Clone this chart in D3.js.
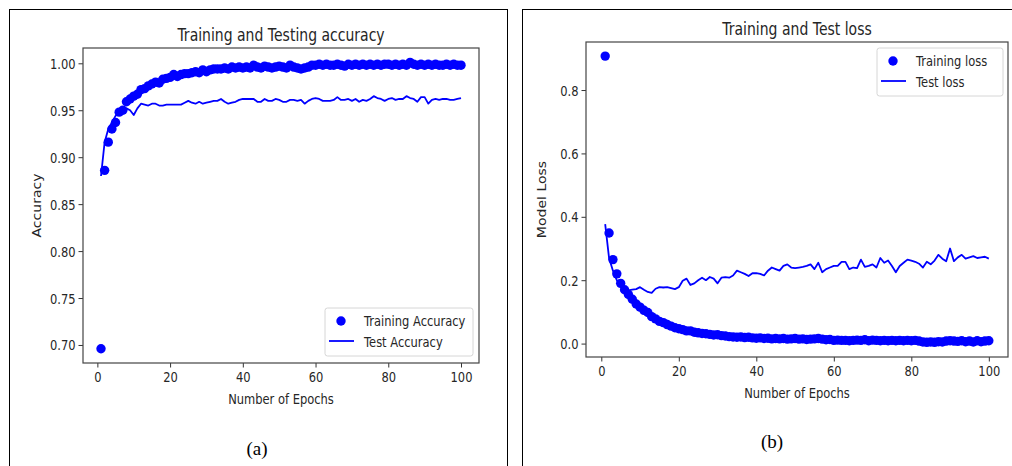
<!DOCTYPE html>
<html lang="en">
<head>
<meta charset="utf-8">
<title>Training curves</title>
<script src="https://cdn.jsdelivr.net/npm/d3@7"></script>
<style>
  body { margin: 0; background: #fff; }
  svg { display: block; }
  text { font-family: "DejaVu Sans", sans-serif; fill: #262626; }
  .caption { font-family: "Liberation Serif", "Times New Roman", serif; fill: #000; }
</style>
</head>
<body>
<script>
// epochs 1..100
var epochs = d3.range(1, 101);

// panel (a) - accuracy
var trainAcc = [
  0.696, 0.886, 0.916, 0.930, 0.937, 0.948, 0.950, 0.959, 0.962, 0.965,
  0.967, 0.972, 0.973, 0.976, 0.978, 0.980, 0.979, 0.983, 0.984, 0.985,
  0.988, 0.986, 0.988, 0.989, 0.989, 0.990, 0.991, 0.990, 0.993, 0.991,
  0.993, 0.994, 0.994, 0.994, 0.995, 0.994, 0.996, 0.995, 0.996, 0.995,
  0.996, 0.995, 0.998, 0.996, 0.995, 0.997, 0.996, 0.995, 0.996, 0.997,
  0.996, 0.995, 0.998, 0.996, 0.995, 0.994, 0.995, 0.996, 0.998, 0.998,
  0.999, 0.998, 0.999, 0.998, 0.998, 0.999, 0.998, 0.997, 0.999, 0.998,
  0.999, 0.998, 0.999, 0.998, 0.999, 0.998, 0.999, 0.998, 0.999, 0.999,
  0.998, 0.999, 0.998, 0.999, 0.998, 1.001, 0.999, 0.998, 0.999, 0.998,
  0.999, 0.998, 0.999, 0.998, 0.998, 0.999, 0.998, 0.999, 0.998, 0.998
];
var testAcc = [
  0.880, 0.916, 0.930, 0.937, 0.944, 0.949, 0.951, 0.952, 0.950, 0.945,
  0.952, 0.957, 0.956, 0.955, 0.957, 0.957, 0.955, 0.955, 0.956, 0.956,
  0.956, 0.956, 0.956, 0.958, 0.960, 0.958, 0.957, 0.959, 0.957, 0.958,
  0.959, 0.960, 0.960, 0.962, 0.959, 0.957, 0.958, 0.959, 0.961, 0.962,
  0.962, 0.962, 0.962, 0.959, 0.959, 0.962, 0.960, 0.960, 0.962, 0.961,
  0.959, 0.959, 0.961, 0.961, 0.960, 0.961, 0.957, 0.960, 0.962, 0.963,
  0.962, 0.960, 0.960, 0.960, 0.961, 0.964, 0.961, 0.961, 0.962, 0.960,
  0.962, 0.959, 0.961, 0.960, 0.962, 0.965, 0.963, 0.962, 0.960, 0.962,
  0.963, 0.961, 0.962, 0.962, 0.965, 0.963, 0.962, 0.959, 0.964, 0.964,
  0.957, 0.961, 0.962, 0.961, 0.962, 0.962, 0.961, 0.961, 0.962, 0.963
];

// panel (b) - loss
var trainLoss = [
  0.907, 0.349, 0.265, 0.220, 0.190, 0.170, 0.155, 0.140, 0.125, 0.115,
  0.105, 0.098, 0.085, 0.078, 0.070, 0.066, 0.060, 0.055, 0.050, 0.047,
  0.044, 0.040, 0.040, 0.036, 0.034, 0.032, 0.031, 0.029, 0.027, 0.028,
  0.025, 0.024, 0.022, 0.021, 0.020, 0.021, 0.019, 0.020, 0.018, 0.017,
  0.018, 0.016, 0.017, 0.015, 0.016, 0.015, 0.016, 0.014, 0.015, 0.016,
  0.014, 0.015, 0.013, 0.014, 0.015, 0.016, 0.014, 0.012, 0.013, 0.010,
  0.011, 0.010, 0.010, 0.009, 0.010, 0.011, 0.010, 0.012, 0.009, 0.011,
  0.010, 0.009, 0.010, 0.009, 0.010, 0.009, 0.010, 0.009, 0.010, 0.009,
  0.010, 0.008, 0.005, 0.004, 0.005, 0.004, 0.006, 0.005, 0.008, 0.009,
  0.008, 0.007, 0.009, 0.006, 0.008, 0.005, 0.009, 0.006, 0.008, 0.009
];
var testLoss = [
  0.377, 0.270, 0.230, 0.200, 0.182, 0.172, 0.168, 0.170, 0.172, 0.178,
  0.170, 0.163, 0.160, 0.173, 0.178, 0.177, 0.178, 0.175, 0.172, 0.178,
  0.198, 0.205, 0.185, 0.190, 0.200, 0.208, 0.200, 0.210, 0.205, 0.190,
  0.208, 0.210, 0.208, 0.215, 0.230, 0.225, 0.220, 0.213, 0.222, 0.222,
  0.220, 0.215, 0.230, 0.240, 0.235, 0.230, 0.245, 0.250, 0.240, 0.238,
  0.240, 0.242, 0.245, 0.250, 0.235, 0.255, 0.225, 0.235, 0.240, 0.245,
  0.245, 0.258, 0.258, 0.235, 0.240, 0.238, 0.265, 0.242, 0.245, 0.250,
  0.240, 0.270, 0.255, 0.262, 0.245, 0.225, 0.245, 0.255, 0.265, 0.262,
  0.258, 0.252, 0.240, 0.258, 0.250, 0.262, 0.280, 0.268, 0.260, 0.300,
  0.260, 0.272, 0.280, 0.268, 0.272, 0.276, 0.270, 0.272, 0.274, 0.268
];

var accTicks = [0.70, 0.75, 0.80, 0.85, 0.90, 0.95, 1.00];
var lossTicks = [0.0, 0.2, 0.4, 0.6, 0.8];
var epochTicks = [0, 20, 40, 60, 80, 100];

var W = 1012, H = 466;
var STRETCH = 1.22; // the source figure is a bit taller than wide
var svg = d3.select("body").append("svg").attr("width", W).attr("height", H);

// outer panel frames
svg.append("rect").attr("x", 9.5).attr("y", 9.5).attr("width", 498).attr("height", 470)
  .attr("fill", "none").attr("stroke", "#000").attr("stroke-width", 1);
svg.append("rect").attr("x", 522.5).attr("y", 9.5).attr("width", 500).attr("height", 470)
  .attr("fill", "none").attr("stroke", "#000").attr("stroke-width", 1);

// text placed at (x, y) baseline, stretched vertically like the source
function label(g, x, y, str, size, anchor, rot) {
  var tr = "translate(" + x + "," + y + ")" + (rot ? " rotate(-90) scale(" + STRETCH + ",1)" : " scale(1," + STRETCH + ")");
  return g.append("text").attr("transform", tr).attr("text-anchor", anchor || "start")
    .attr("font-size", size).text(str);
}

function drawPanel(p) {
  var x = d3.scaleLinear().domain([-3.95, 104.95]).range([p.left, p.right]);
  var y = d3.scaleLinear().domain(p.yDomain).range([p.bottom, p.top]);
  var g = svg.append("g");

  // axes
  var xAxis = g.append("g").attr("transform", "translate(0," + p.bottom + ")")
    .call(d3.axisBottom(x).tickValues(epochTicks).tickSize(4.5).tickFormat(d3.format("d")));
  var yAxis = g.append("g").attr("transform", "translate(" + p.left + ",0)")
    .call(d3.axisLeft(y).tickValues(p.yTicks).tickSize(4.5).tickFormat(d3.format(p.fmt)));
  [xAxis, yAxis].forEach(function (a) {
    a.select(".domain").remove();
    a.selectAll("line").attr("stroke", "#333").attr("stroke-width", 1);
    a.selectAll("text").attr("font-size", 11.5).attr("fill", "#262626")
      .attr("font-family", "DejaVu Sans, sans-serif");
  });
  xAxis.selectAll(".tick text").attr("y", 0).attr("dy", null)
    .attr("transform", "translate(0,19) scale(1," + STRETCH + ")");
  yAxis.selectAll(".tick text").attr("x", 0).attr("dy", null)
    .attr("transform", "translate(-7.5,5) scale(1," + STRETCH + ")");

  // training dots
  g.append("g").selectAll("circle").data(p.train).join("circle")
    .attr("cx", function (d, i) { return x(epochs[i]); })
    .attr("cy", function (d) { return y(d); })
    .attr("r", 4.7).attr("fill", "#0000ff");

  // test line
  var line = d3.line().x(function (d, i) { return x(epochs[i]); }).y(function (d) { return y(d); });
  g.append("path").datum(p.test).attr("d", line)
    .attr("fill", "none").attr("stroke", "#0000ff").attr("stroke-width", 1.8)
    .attr("stroke-linejoin", "round");

  // plot frame
  g.append("rect").attr("x", p.left).attr("y", p.top)
    .attr("width", p.right - p.left).attr("height", p.bottom - p.top)
    .attr("fill", "none").attr("stroke", "#444").attr("stroke-width", 1.2);

  // titles
  var cx = (p.left + p.right) / 2;
  label(g, cx, p.top - 7, p.title, 14, "middle");
  label(g, cx, p.bottom + 41, "Number of Epochs", 11.5, "middle");
  label(g, p.ylabX + 4, (p.top + p.bottom) / 2, p.ylab, 11.5, "middle", true);

  // legend
  var lg = g.append("g").attr("transform", "translate(" + p.legX + "," + p.legY + ")");
  lg.append("rect").attr("width", p.legW).attr("height", 48).attr("rx", 2.5)
    .attr("fill", "#fff").attr("fill-opacity", 0.8).attr("stroke", "#d6d6d6");
  lg.append("circle").attr("cx", 16).attr("cy", 13).attr("r", 4.7).attr("fill", "#0000ff");
  lg.append("line").attr("x1", 4).attr("x2", 29).attr("y1", 33).attr("y2", 33)
    .attr("stroke", "#0000ff").attr("stroke-width", 1.8);
  label(lg, 39, 18, p.legTrain, 11.5);
  label(lg, 39, 38.5, p.legTest, 11.5);

  // caption
  svg.append("text").attr("class", "caption").attr("x", p.capX).attr("y", p.capY)
    .attr("text-anchor", "middle").attr("font-size", 19).text(p.caption);
}

drawPanel({
  left: 83, right: 479, top: 48, bottom: 363,
  yDomain: [0.6808, 1.0163], yTicks: accTicks, fmt: ".2f",
  train: trainAcc, test: testAcc,
  title: "Training and Testing accuracy", ylab: "Accuracy", ylabX: 37,
  legX: 325, legY: 308, legW: 148,
  legTrain: "Training Accuracy", legTest: "Test Accuracy",
  caption: "(a)", capX: 257, capY: 455
});

drawPanel({
  left: 586, right: 1008, top: 42, bottom: 357,
  yDomain: [-0.0423, 0.9515], yTicks: lossTicks, fmt: ".1f",
  train: trainLoss, test: testLoss,
  title: "Training and Test loss", ylab: "Model Loss", ylabX: 542,
  legX: 877, legY: 48, legW: 126,
  legTrain: "Training loss", legTest: "Test loss",
  caption: "(b)", capX: 772, capY: 448
});
</script>
</body>
</html>
